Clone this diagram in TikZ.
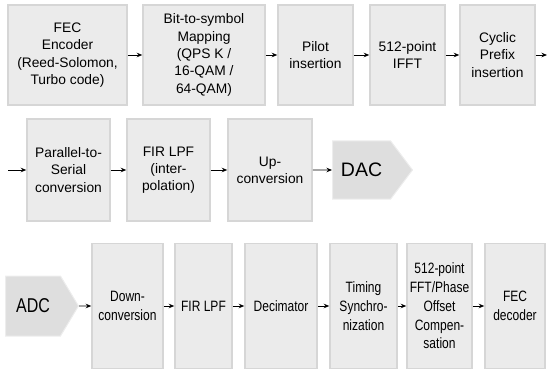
\documentclass[tikz,border=0pt]{standalone}
\usepackage{fontspec}
\setmainfont{Liberation Sans}
\newfontfamily\narrowsf[FakeStretch=0.8]{Liberation Sans}
\usetikzlibrary{arrows.meta,shapes.symbols}
\definecolor{boxgray}{HTML}{EBEBEB}
\definecolor{convgray}{HTML}{DEDEDE}

\begin{document}
\begin{tikzpicture}[x=1pt,y=-1pt,
  blk/.style={rectangle,fill=boxgray,draw=black!16,line width=1.5pt,align=center,inner sep=0pt,font=\fontsize{13.8}{17.3}\selectfont},
  txblk/.style={blk,minimum height=102pt},
  rxblk/.style={blk,minimum height=125pt,font=\narrowsf\fontsize{15}{18.8}\selectfont},
  conv/.style={signal,signal to=east,fill=convgray,draw=black!7,line width=1pt,inner sep=0pt,anchor=west},
  flow/.style={-{Stealth[length=5.5pt,width=4.5pt]},line width=0.9pt}]
\useasboundingbox (0,0) rectangle (548,374);
\node[blk,minimum width=119pt,minimum height=100pt] (fec) at (67.5,55) {FEC\\Encoder\\(Reed-Solomon,\\Turbo code)};
\node[blk,minimum width=122pt,minimum height=100pt] (map) at (204,55) {Bit-to-symbol\\Mapping\\(QPS K /\\16-QAM /\\64-QAM)};
\node[blk,minimum width=75pt,minimum height=100pt] (pilot) at (315.5,55) {Pilot\\insertion};
\node[blk,minimum width=75pt,minimum height=100pt] (ifft) at (407.5,55) {512-point\\IFFT};
\node[blk,minimum width=75pt,minimum height=100pt] (cp) at (497.5,55) {Cyclic\\Prefix\\insertion};
\coordinate (out1) at (547,55);
\draw[flow] (fec) -- (map);
\draw[flow] (map) -- (pilot);
\draw[flow] (pilot) -- (ifft);
\draw[flow] (ifft) -- (cp);
\draw[flow] (cp) -- (out1);

\coordinate (in2) at (8,170);
\node[txblk,minimum width=83pt] (ps) at (68.5,170) {Parallel-to-\\Serial\\conversion};
\node[txblk,minimum width=83pt] (firi) at (168.5,170) {FIR LPF\\(inter-\\polation)};
\node[txblk,minimum width=84pt] (up) at (270,170) {Up-\\conversion};
\node[conv,minimum width=80pt,minimum height=58pt,signal pointer angle=106,font=\fontsize{19.5}{22}\selectfont] (dac) at (332,170) {DAC};
\draw[flow] (in2) -- (ps);
\draw[flow] (ps) -- (firi);
\draw[flow] (firi) -- (up);
\draw[flow] (up) -- (dac);

\node[conv,minimum width=73pt,minimum height=60pt,signal pointer angle=118,font=\narrowsf\fontsize{20}{22}\selectfont] (adc) at (5,306) {ADC};
\node[rxblk,minimum width=71pt] (down) at (127.5,306) {Down-\\conversion};
\node[rxblk,minimum width=57pt] (fir) at (203.5,306) {FIR LPF};
\node[rxblk,minimum width=72pt] (dec) at (281,306) {Decimator};
\node[rxblk,minimum width=67pt] (tim) at (363.5,306) {Timing\\Synchro-\\nization};
\node[rxblk,minimum width=65pt] (fft) at (439.5,306) {512-point\\FFT/Phase\\Offset\\Compen-\\sation};
\node[rxblk,minimum width=60pt] (dcd) at (515,306) {FEC\\decoder};
\draw[flow] (adc) -- (down);
\draw[flow] (down) -- (fir);
\draw[flow] (fir) -- (dec);
\draw[flow] (dec) -- (tim);
\draw[flow] (tim) -- (fft);
\draw[flow] (fft) -- (dcd);
\end{tikzpicture}
\end{document}
